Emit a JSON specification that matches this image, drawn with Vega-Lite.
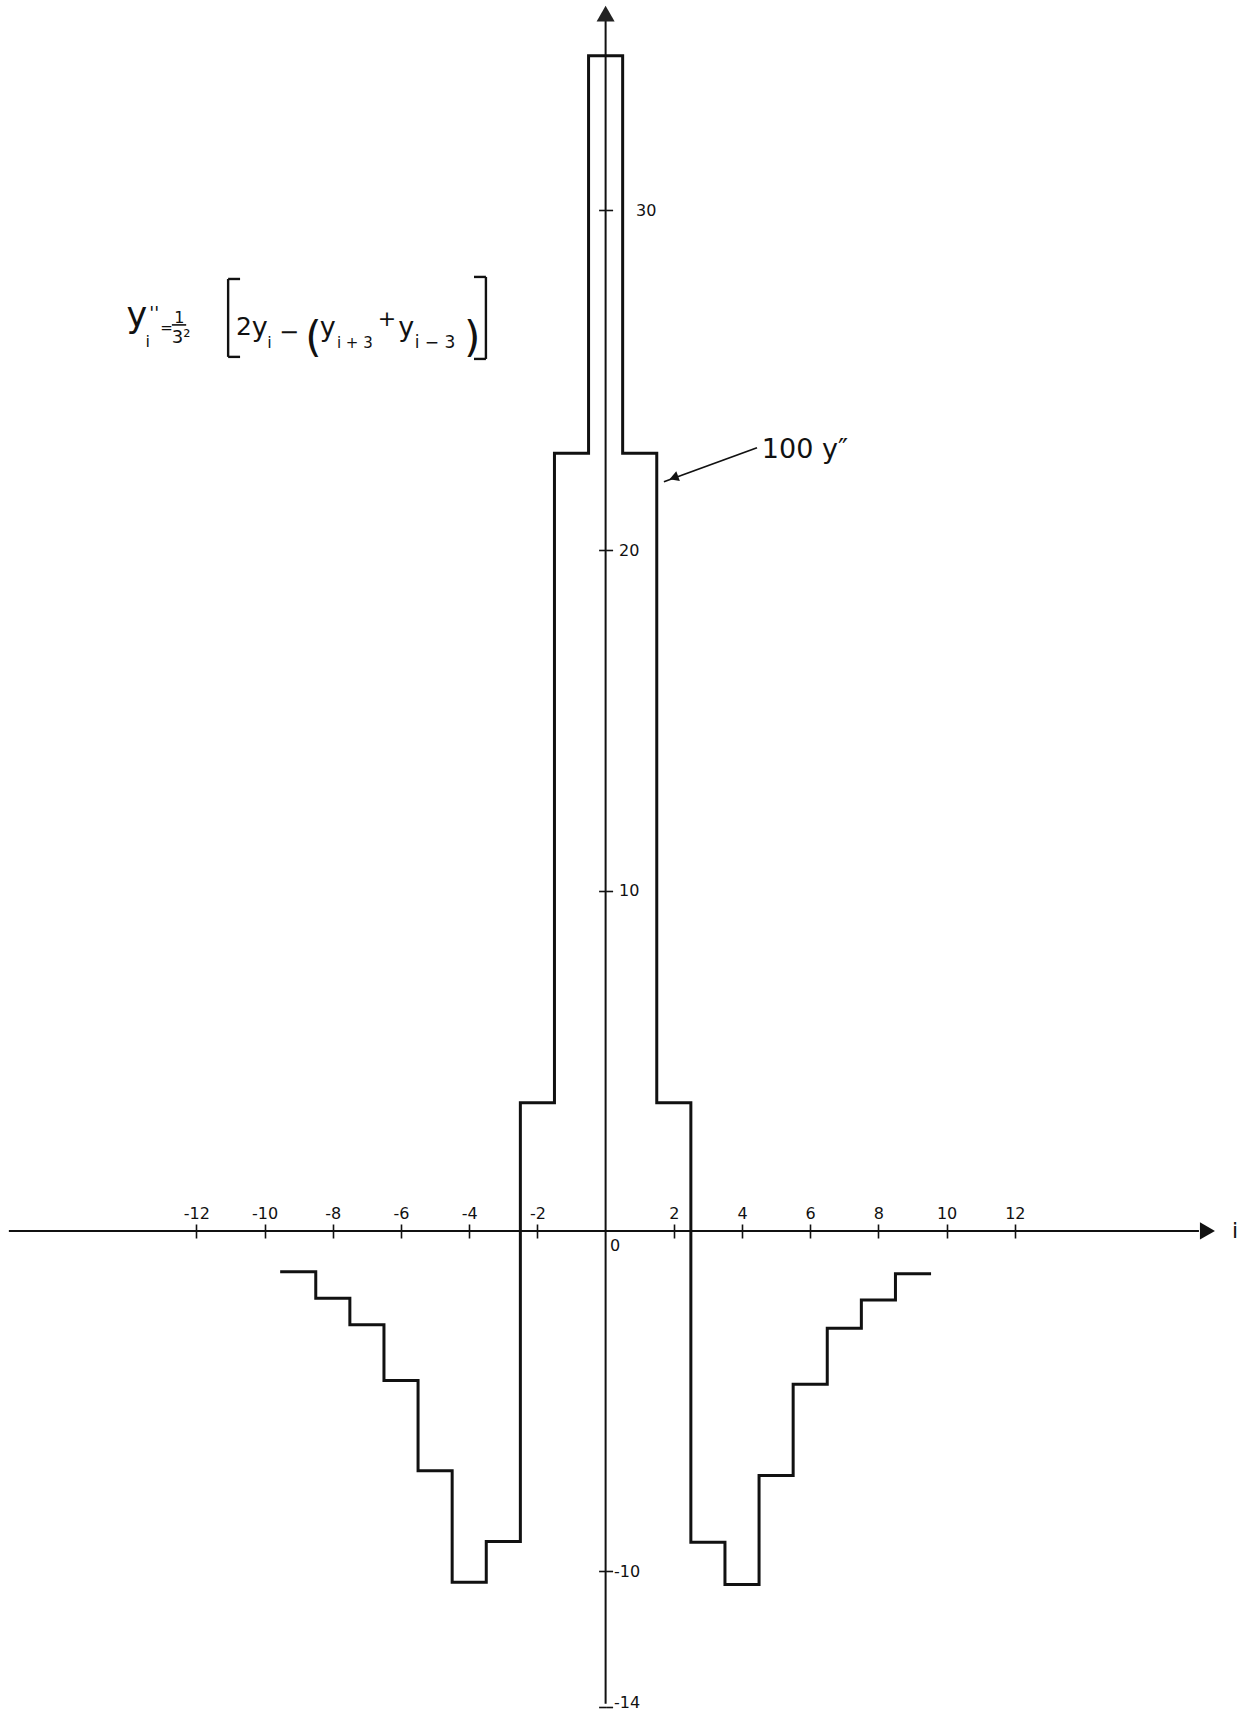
{
  "$schema": "https://vega.github.io/schema/vega-lite/v6.json",
  "width": 1246,
  "height": 1714,
  "padding": 0,
  "autosize": {"type": "none"},
  "background": "white",
  "config": {
    "view": {"stroke": null},
    "text": {"font": "DejaVu Sans", "color": "#111"},
    "axis": {"grid": false, "domain": false, "title": null, "tickColor": "#111", "labelColor": "#111", "labelFont": "DejaVu Sans"}
  },
  "datasets": {
    "steps": [
      {"i": -9, "edge": -9.5, "value": -1.20},
      {"i": -8, "edge": -8.5, "value": -1.98},
      {"i": -7, "edge": -7.5, "value": -2.76},
      {"i": -6, "edge": -6.5, "value": -4.40},
      {"i": -5, "edge": -5.5, "value": -7.05},
      {"i": -4, "edge": -4.5, "value": -10.33},
      {"i": -3, "edge": -3.5, "value": -9.13},
      {"i": -2, "edge": -2.5, "value": 3.77},
      {"i": -1, "edge": -1.5, "value": 22.86},
      {"i": 0, "edge": -0.5, "value": 34.54},
      {"i": 1, "edge": 0.5, "value": 22.86},
      {"i": 2, "edge": 1.5, "value": 3.77},
      {"i": 3, "edge": 2.5, "value": -9.15},
      {"i": 4, "edge": 3.5, "value": -10.39},
      {"i": 5, "edge": 4.5, "value": -7.19},
      {"i": 6, "edge": 5.5, "value": -4.51},
      {"i": 7, "edge": 6.5, "value": -2.86},
      {"i": 8, "edge": 7.5, "value": -2.03},
      {"i": 9, "edge": 8.5, "value": -1.26},
      {"i": null, "edge": 9.5, "value": -1.26}
    ]
  },
  "layer": [
    {
      "data": {"name": "steps"},
      "mark": {"type": "line", "interpolate": "step-after", "stroke": "#111", "strokeWidth": 3, "strokeJoin": "miter", "strokeCap": "square"},
      "encoding": {
        "x": {
          "field": "edge", "type": "quantitative",
          "scale": {"domain": [-17.76, 18.78], "nice": false, "zero": false},
          "axis": {
            "orient": "top", "offset": -1231,
            "values": [-12, -10, -8, -6, -4, -2, 2, 4, 6, 8, 10, 12],
            "labelExpr": "'' + datum.value",
            "labelFontSize": 16, "labelPadding": 3, "labelOverlap": false, "labelFlush": false,
            "tickSize": 7, "tickWidth": 1.6
          }
        },
        "y": {
          "field": "value", "type": "quantitative",
          "scale": {"domain": [-14.2, 36.18], "nice": false, "zero": false},
          "axis": {
            "orient": "right", "offset": -640.4,
            "values": [30, 20, 10, -10, -14],
            "labelExpr": "'' + datum.value",
            "labelFontSize": 16, "labelAlign": "left", "labelBaseline": "middle",
            "labelPadding": {"condition": [{"test": "datum.value == 30", "value": 23}, {"test": "datum.value < 0", "value": 1}], "value": 6},
            "labelOffset": {"condition": {"test": "datum.value == -14", "value": -5}, "value": 0},
            "labelOverlap": false, "labelFlush": false,
            "tickSize": 7, "tickWidth": 1.6
          }
        }
      }
    },
    {
      "data": {"values": [{}]},
      "mark": {"type": "rule", "color": "#111", "strokeWidth": 2},
      "encoding": {
        "x": {
          "datum": -17.5, "type": "quantitative",
          "axis": {
            "orient": "bottom", "offset": -483,
            "values": [-12, -10, -8, -6, -4, -2, 2, 4, 6, 8, 10, 12],
            "labels": false, "tickSize": 7, "tickWidth": 1.6
          }
        },
        "x2": {"datum": 17.4},
        "y": {"datum": 0, "type": "quantitative", "axis": null}
      }
    },
    {
      "data": {"values": [{}]},
      "mark": {"type": "rule", "color": "#111", "strokeWidth": 2},
      "encoding": {
        "x": {"datum": 0, "type": "quantitative", "axis": null},
        "y": {
          "datum": -13.9, "type": "quantitative",
          "axis": {
            "orient": "left", "offset": -605.6,
            "values": [30, 20, 10, -10, -14],
            "labels": false, "tickSize": 7, "tickWidth": 1.6
          }
        },
        "y2": {"datum": 35.6}
      }
    },
    {
      "data": {"values": [{}]},
      "mark": {"type": "point", "shape": "triangle-up", "size": 324, "filled": true, "color": "#222", "opacity": 1},
      "encoding": {
        "x": {"datum": 0, "type": "quantitative", "axis": null},
        "y": {"datum": 35.78, "type": "quantitative", "axis": null}
      }
    },
    {
      "data": {"values": [{}]},
      "mark": {"type": "point", "shape": "triangle-right", "size": 300, "filled": true, "color": "#111", "opacity": 1},
      "encoding": {
        "x": {"datum": 17.65, "type": "quantitative", "axis": null},
        "y": {"datum": 0, "type": "quantitative", "axis": null}
      }
    },
    {
      "data": {"values": [{}]},
      "mark": {"type": "text", "text": "i", "fontSize": 22, "align": "center", "baseline": "middle"},
      "encoding": {
        "x": {"datum": 18.46, "type": "quantitative", "axis": null},
        "y": {"datum": 0, "type": "quantitative", "axis": null}
      }
    },
    {
      "data": {"values": [{}]},
      "mark": {"type": "text", "text": "0", "fontSize": 16, "align": "center", "baseline": "middle"},
      "encoding": {
        "x": {"datum": 0.28, "type": "quantitative", "axis": null},
        "y": {"datum": -0.44, "type": "quantitative", "axis": null}
      }
    },
    {
      "data": {"values": [{}]},
      "mark": {"type": "text", "text": "100 y″", "fontSize": 27, "align": "left", "baseline": "alphabetic"},
      "encoding": {
        "x": {"datum": 4.58, "type": "quantitative", "axis": null},
        "y": {"datum": 22.72, "type": "quantitative", "axis": null}
      }
    },
    {
      "data": {"values": [{}]},
      "mark": {"type": "rule", "color": "#111", "strokeWidth": 1.8},
      "encoding": {
        "x": {"datum": 4.44, "type": "quantitative", "axis": null},
        "x2": {"datum": 1.71},
        "y": {"datum": 23.02, "type": "quantitative", "axis": null},
        "y2": {"datum": 22.02}
      }
    },
    {
      "data": {"values": [{}]},
      "mark": {"type": "point", "shape": "triangle-up", "size": 110, "angle": 250, "filled": true, "color": "#111", "opacity": 1},
      "encoding": {
        "x": {"datum": 2.0, "type": "quantitative", "axis": null},
        "y": {"datum": 22.14, "type": "quantitative", "axis": null}
      }
    },
    {
      "data": {"values": [{}]},
      "mark": {"type": "text", "text": "y", "fontSize": 35, "align": "left", "baseline": "alphabetic"},
      "encoding": {
        "x": {"datum": -14.05, "type": "quantitative", "axis": null},
        "y": {"datum": 26.57, "type": "quantitative", "axis": null}
      }
    },
    {
      "data": {"values": [{}]},
      "mark": {"type": "text", "text": "''", "fontSize": 18, "align": "left", "baseline": "alphabetic"},
      "encoding": {
        "x": {"datum": -13.38, "type": "quantitative", "axis": null},
        "y": {"datum": 26.8, "type": "quantitative", "axis": null}
      }
    },
    {
      "data": {"values": [{}]},
      "mark": {"type": "text", "text": "i", "fontSize": 16, "align": "left", "baseline": "alphabetic"},
      "encoding": {
        "x": {"datum": -13.49, "type": "quantitative", "axis": null},
        "y": {"datum": 25.98, "type": "quantitative", "axis": null}
      }
    },
    {
      "data": {"values": [{}]},
      "mark": {"type": "text", "text": "=", "fontSize": 15, "align": "left", "baseline": "alphabetic"},
      "encoding": {
        "x": {"datum": -13.06, "type": "quantitative", "axis": null},
        "y": {"datum": 26.4, "type": "quantitative", "axis": null}
      }
    },
    {
      "data": {"values": [{}]},
      "mark": {"type": "text", "text": "1", "fontSize": 16, "align": "center", "baseline": "alphabetic"},
      "encoding": {
        "x": {"datum": -12.5, "type": "quantitative", "axis": null},
        "y": {"datum": 26.7, "type": "quantitative", "axis": null}
      }
    },
    {
      "data": {"values": [{}]},
      "mark": {"type": "rule", "color": "#111", "strokeWidth": 1.6},
      "encoding": {
        "x": {"datum": -12.72, "type": "quantitative", "axis": null},
        "x2": {"datum": -12.3},
        "y": {"datum": 26.63, "type": "quantitative", "axis": null}
      }
    },
    {
      "data": {"values": [{}]},
      "mark": {"type": "text", "text": "3²", "fontSize": 18, "align": "left", "baseline": "alphabetic"},
      "encoding": {
        "x": {"datum": -12.72, "type": "quantitative", "axis": null},
        "y": {"datum": 26.11, "type": "quantitative", "axis": null}
      }
    },
    {
      "data": {"values": [{}]},
      "mark": {"type": "rule", "color": "#111", "strokeWidth": 2.4},
      "encoding": {
        "x": {"datum": -11.07, "type": "quantitative", "axis": null},
        "y": {"datum": 27.98, "type": "quantitative", "axis": null},
        "y2": {"datum": 25.69}
      }
    },
    {
      "data": {"values": [{}]},
      "mark": {"type": "rule", "color": "#111", "strokeWidth": 2.4},
      "encoding": {
        "x": {"datum": -11.07, "type": "quantitative", "axis": null},
        "x2": {"datum": -10.72},
        "y": {"datum": 27.98, "type": "quantitative", "axis": null}
      }
    },
    {
      "data": {"values": [{}]},
      "mark": {"type": "rule", "color": "#111", "strokeWidth": 2.4},
      "encoding": {
        "x": {"datum": -11.07, "type": "quantitative", "axis": null},
        "x2": {"datum": -10.72},
        "y": {"datum": 25.69, "type": "quantitative", "axis": null}
      }
    },
    {
      "data": {"values": [{}]},
      "mark": {"type": "rule", "color": "#111", "strokeWidth": 2.4},
      "encoding": {
        "x": {"datum": -3.51, "type": "quantitative", "axis": null},
        "y": {"datum": 28.04, "type": "quantitative", "axis": null},
        "y2": {"datum": 25.63}
      }
    },
    {
      "data": {"values": [{}]},
      "mark": {"type": "rule", "color": "#111", "strokeWidth": 2.4},
      "encoding": {
        "x": {"datum": -3.86, "type": "quantitative", "axis": null},
        "x2": {"datum": -3.51},
        "y": {"datum": 28.04, "type": "quantitative", "axis": null}
      }
    },
    {
      "data": {"values": [{}]},
      "mark": {"type": "rule", "color": "#111", "strokeWidth": 2.4},
      "encoding": {
        "x": {"datum": -3.86, "type": "quantitative", "axis": null},
        "x2": {"datum": -3.51},
        "y": {"datum": 25.63, "type": "quantitative", "axis": null}
      }
    },
    {
      "data": {"values": [{}]},
      "mark": {"type": "text", "text": "2", "fontSize": 25, "align": "left", "baseline": "alphabetic"},
      "encoding": {
        "x": {"datum": -10.84, "type": "quantitative", "axis": null},
        "y": {"datum": 26.34, "type": "quantitative", "axis": null}
      }
    },
    {
      "data": {"values": [{}]},
      "mark": {"type": "text", "text": "y", "fontSize": 27, "align": "left", "baseline": "alphabetic"},
      "encoding": {
        "x": {"datum": -10.38, "type": "quantitative", "axis": null},
        "y": {"datum": 26.31, "type": "quantitative", "axis": null}
      }
    },
    {
      "data": {"values": [{}]},
      "mark": {"type": "text", "text": "i", "fontSize": 16, "align": "left", "baseline": "alphabetic"},
      "encoding": {
        "x": {"datum": -9.92, "type": "quantitative", "axis": null},
        "y": {"datum": 25.96, "type": "quantitative", "axis": null}
      }
    },
    {
      "data": {"values": [{}]},
      "mark": {"type": "text", "text": "−", "fontSize": 24, "align": "left", "baseline": "alphabetic"},
      "encoding": {
        "x": {"datum": -9.58, "type": "quantitative", "axis": null},
        "y": {"datum": 26.19, "type": "quantitative", "axis": null}
      }
    },
    {
      "data": {"values": [{}]},
      "mark": {"type": "text", "text": "(", "fontSize": 42, "align": "left", "baseline": "alphabetic"},
      "encoding": {
        "x": {"datum": -8.81, "type": "quantitative", "axis": null},
        "y": {"datum": 25.84, "type": "quantitative", "axis": null}
      }
    },
    {
      "data": {"values": [{}]},
      "mark": {"type": "text", "text": "y", "fontSize": 27, "align": "left", "baseline": "alphabetic"},
      "encoding": {
        "x": {"datum": -8.38, "type": "quantitative", "axis": null},
        "y": {"datum": 26.31, "type": "quantitative", "axis": null}
      }
    },
    {
      "data": {"values": [{}]},
      "mark": {"type": "text", "text": "i + 3", "fontSize": 15, "align": "left", "baseline": "alphabetic"},
      "encoding": {
        "x": {"datum": -7.88, "type": "quantitative", "axis": null},
        "y": {"datum": 25.96, "type": "quantitative", "axis": null}
      }
    },
    {
      "data": {"values": [{}]},
      "mark": {"type": "text", "text": "+", "fontSize": 22, "align": "left", "baseline": "alphabetic"},
      "encoding": {
        "x": {"datum": -6.68, "type": "quantitative", "axis": null},
        "y": {"datum": 26.6, "type": "quantitative", "axis": null}
      }
    },
    {
      "data": {"values": [{}]},
      "mark": {"type": "text", "text": "y", "fontSize": 27, "align": "left", "baseline": "alphabetic"},
      "encoding": {
        "x": {"datum": -6.08, "type": "quantitative", "axis": null},
        "y": {"datum": 26.31, "type": "quantitative", "axis": null}
      }
    },
    {
      "data": {"values": [{}]},
      "mark": {"type": "text", "text": "i − 3", "fontSize": 17, "align": "left", "baseline": "alphabetic"},
      "encoding": {
        "x": {"datum": -5.6, "type": "quantitative", "axis": null},
        "y": {"datum": 25.96, "type": "quantitative", "axis": null}
      }
    },
    {
      "data": {"values": [{}]},
      "mark": {"type": "text", "text": ")", "fontSize": 42, "align": "left", "baseline": "alphabetic"},
      "encoding": {
        "x": {"datum": -4.15, "type": "quantitative", "axis": null},
        "y": {"datum": 25.84, "type": "quantitative", "axis": null}
      }
    }
  ],
  "resolve": {"axis": {"x": "independent", "y": "independent"}}
}
